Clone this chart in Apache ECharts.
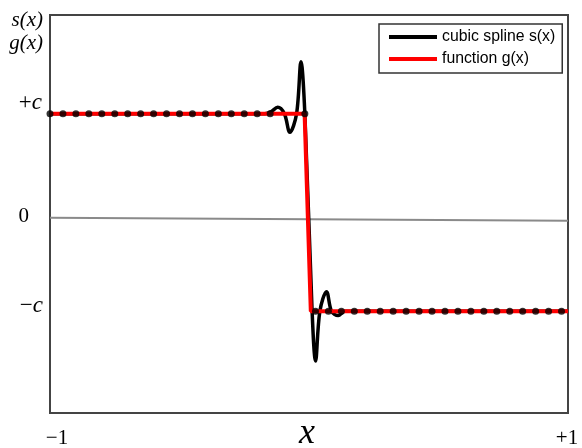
<!DOCTYPE html>
<html>
<head>
<meta charset="utf-8">
<script src="https://cdn.jsdelivr.net/npm/echarts@6/dist/echarts.min.js"></script>
<style>
  html, body { margin: 0; padding: 0; background: #ffffff; }
  #chart { width: 582px; height: 448px; }
</style>
</head>
<body>
<div id="chart"></div>
<script>
// Step function g(x): +c left of the jump, -c right of it (c = 1)
const gX = [-1, -0.017, 0.007, 1];
const gY = [1, 1, -1, -1];

// Cubic spline s(x), with the ringing on both sides of the jump
const sX = [-1, -0.2, -0.17, -0.147, -0.121, -0.095, -0.074, -0.048, -0.031, -0.016, 0.012, 0.0253, 0.042, 0.0677, 0.087, 0.1125, 0.138, 0.17, 1];
const sY = [1, 1, 1, 1.02, 1.065, 1.0, 0.812, 1.0, 1.527, 1.0, -1.0, -1.504, -1.0, -0.802, -1.0, -1.043, -1.0, -1, -1];

// Interpolation nodes
const nodeX = [-1, -0.95, -0.9, -0.85, -0.8, -0.75, -0.7, -0.65, -0.6, -0.55, -0.5, -0.45, -0.4, -0.35, -0.3, -0.25, -0.2, -0.15, -0.016,
  0.025, 0.075, 0.125, 0.175, 0.225, 0.275, 0.325, 0.375, 0.425, 0.475, 0.525, 0.575, 0.625, 0.675, 0.725, 0.775, 0.825, 0.875, 0.925, 0.975];
const nodeY = [1, 1, 1, 1, 1, 1, 1, 1, 1, 1, 1, 1, 1, 1, 1, 1, 1, 1, 1,
  -1, -1, -1, -1, -1, -1, -1, -1, -1, -1, -1, -1, -1, -1, -1, -1, -1, -1, -1, -1];

// Thin reference line through the zero level
const zeroX = [-1, 1];
const zeroY = [-0.053, -0.083];

// Labels
const yTickLabels = ['+c', '0', '\u2212c'];
const xTickLabels = ['\u22121', '+1'];
const xTitle = 'x';
const yTitles = ['s(x)', 'g(x)'];
const seriesNames = ['cubic spline s(x)', 'function g(x)'];

const pairs = (xs, ys) => xs.map((x, i) => [x, ys[i]]);

const serif = '"Liberation Serif", "DejaVu Serif", serif';
const sans = '"Liberation Sans", Arial, sans-serif';

const titleRich = {
  i: { fontFamily: serif, fontSize: 21, fontStyle: 'italic', fill: '#000' }
};
const tickRich = {
  u: { fontFamily: serif, fontSize: 23, fill: '#000' },
  i: { fontFamily: serif, fontSize: 23, fontStyle: 'italic', fill: '#000' }
};
const zeroRich = {
  u: { fontFamily: serif, fontSize: 21, fill: '#000' },
  i: { fontFamily: serif, fontSize: 21, fontStyle: 'italic', fill: '#000' }
};

function mathLabel(str) {
  // upright signs/digits, italic letters
  return str.replace(/([a-z])/g, '\u0000$1\u0001')
    .split(/(\u0000[a-z]\u0001)/)
    .filter(s => s.length)
    .map(s => s[0] === '\u0000' ? '{i|' + s[1] + '}' : '{u|' + s + '}')
    .join('');
}

const chart = echarts.init(document.getElementById('chart'), null, { renderer: 'canvas' });

chart.setOption({
  animation: false,
  backgroundColor: '#ffffff',
  grid: {
    left: 50, right: 14, top: 15, bottom: 35,
    show: true, borderColor: '#444', borderWidth: 2, backgroundColor: 'transparent'
  },
  xAxis: {
    type: 'value', min: -1, max: 1,
    axisLine: { show: false }, axisTick: { show: false },
    axisLabel: { show: false }, splitLine: { show: false }
  },
  yAxis: {
    type: 'value', min: -2.03, max: 2.0,
    axisLine: { show: false }, axisTick: { show: false },
    axisLabel: { show: false }, splitLine: { show: false }
  },
  legend: {
    orient: 'vertical',
    left: 379, top: 24,
    data: seriesNames,
    icon: 'rect',
    itemWidth: 48, itemHeight: 4, itemGap: 6,
    padding: [5, 7, 6, 10],
    borderColor: '#333', borderWidth: 1.5,
    backgroundColor: '#fff',
    textStyle: { fontFamily: sans, fontSize: 15.8, color: '#000', lineHeight: 16 },
    selectedMode: false
  },
  series: [
    {
      type: 'line', name: 'zero', data: pairs(zeroX, zeroY),
      showSymbol: false, silent: true,
      lineStyle: { color: '#8a8a8a', width: 2 }, z: 1
    },
    {
      type: 'line', name: seriesNames[0], data: pairs(sX, sY),
      showSymbol: false, smooth: 0.35,
      lineStyle: { color: '#000', width: 3.5 }, itemStyle: { color: '#000' }, z: 2
    },
    {
      type: 'line', name: seriesNames[1], data: pairs(gX, gY),
      showSymbol: false,
      lineStyle: { color: '#ff0000', width: 4 }, itemStyle: { color: '#ff0000' }, z: 3
    },
    {
      type: 'scatter', name: 'nodes', data: pairs(nodeX, nodeY),
      symbol: 'circle', symbolSize: 7,
      itemStyle: { color: '#000' }, z: 4
    }
  ],
  graphic: [
    { type: 'text', x: 43, y: 20, style: { text: '{i|' + yTitles[0] + '}', rich: titleRich, align: 'right', verticalAlign: 'middle' } },
    { type: 'text', x: 43, y: 43, style: { text: '{i|' + yTitles[1] + '}', rich: titleRich, align: 'right', verticalAlign: 'middle' } },
    { type: 'text', x: 42, y: 103, style: { text: mathLabel(yTickLabels[0]), rich: tickRich, align: 'right', verticalAlign: 'middle' } },
    { type: 'text', x: 29, y: 216, style: { text: mathLabel(yTickLabels[1]), rich: zeroRich, align: 'right', verticalAlign: 'middle' } },
    { type: 'text', x: 43, y: 306, style: { text: mathLabel(yTickLabels[2]), rich: tickRich, align: 'right', verticalAlign: 'middle' } },
    { type: 'text', x: 57, y: 438, style: { text: xTickLabels[0], fontFamily: serif, fontSize: 21, fill: '#000', align: 'center', verticalAlign: 'middle' } },
    { type: 'text', x: 567, y: 438, style: { text: xTickLabels[1], fontFamily: serif, fontSize: 21, fill: '#000', align: 'center', verticalAlign: 'middle' } },
    { type: 'text', x: 307, y: 434, style: { text: xTitle, fontFamily: serif, fontSize: 36, fontStyle: 'italic', fill: '#000', align: 'center', verticalAlign: 'middle' } }
  ]
});
</script>
</body>
</html>
